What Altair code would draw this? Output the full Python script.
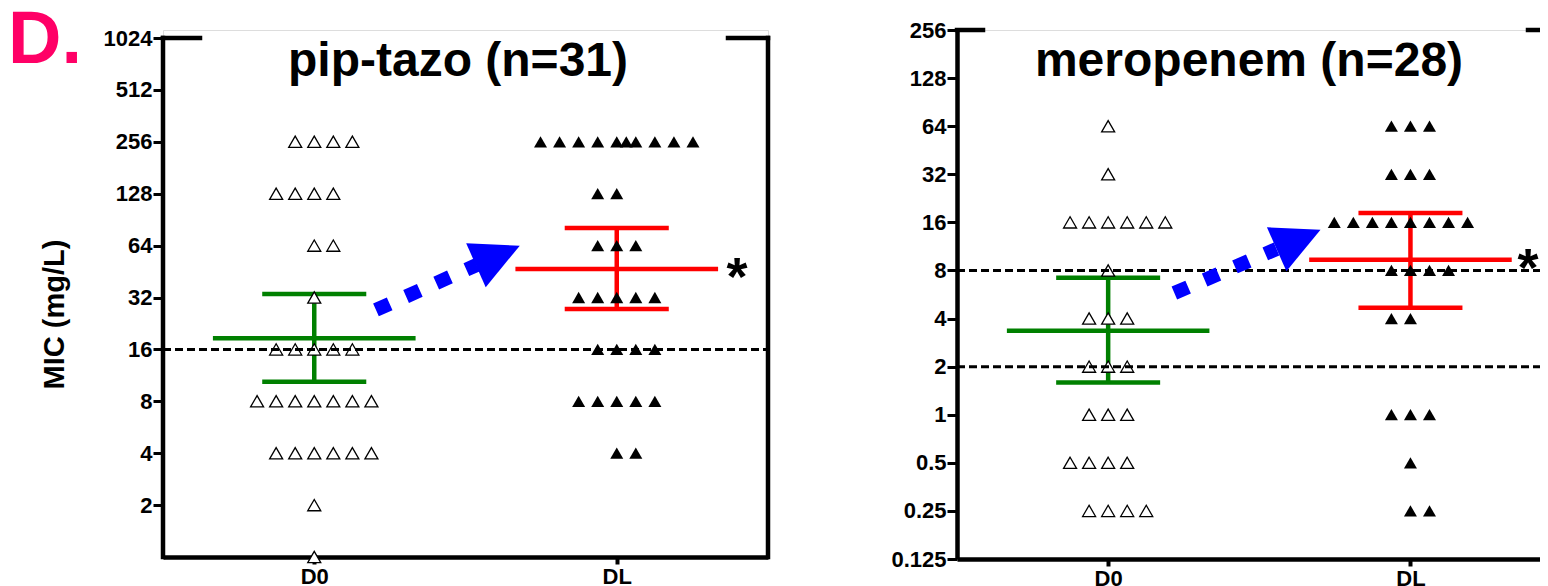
import altair as alt
import pandas as pd

FONT = "Liberation Sans"

# ---------------- data: pip-tazo ----------------
PT_TITLE = "pip-tazo (n=31)"
GROUPS = ["D0", "DL"]
PT_D0_MIC = [256, 128, 64, 32, 16, 8, 4, 2, 1]
PT_D0_COLS = [[-1, 0, 1, 2], [-2, -1, 0, 1], [0, 1], [0], [-2, -1, 0, 1, 2],
              [-3, -2, -1, 0, 1, 2, 3], [-2, -1, 0, 1, 2, 3], [0], [0]]
PT_DL_MIC = [256, 128, 64, 32, 16, 8, 4]
PT_DL_COLS = [[-4, -3, -2, -1, 0, 0.5, 1, 2, 3, 4], [-1, 0], [-1, 0, 1],
              [-2, -1, 0, 1, 2], [-1, 0, 1, 2], [-2, -1, 0, 1, 2], [0, 1]]
PT_GMEAN = [18.6, 46.8]
PT_CI_LOW = [10.4, 27.4]
PT_CI_HIGH = [33.5, 81.0]
PT_BREAKPOINTS = [16]
PT_YTICKS = [2, 4, 8, 16, 32, 64, 128, 256, 512, 1024]
PT_ARROW_START = [0.204, 27.1]
PT_ARROW_END = [0.537, 49.4]
PT_ARROW_HEAD = [0.607, 56.1]

# ---------------- data: meropenem ----------------
MP_TITLE = "meropenem (n=28)"
MP_D0_MIC = [64, 32, 16, 8, 4, 2, 1, 0.5, 0.25]
MP_D0_COLS = [[0], [0], [-2, -1, 0, 1, 2, 3], [0], [-1, 0, 1], [-1, 0, 1],
              [-1, 0, 1], [-2, -1, 0, 1], [-1, 0, 1, 2]]
MP_DL_MIC = [64, 32, 16, 8, 4, 1, 0.5, 0.25]
MP_DL_COLS = [[-1, 0, 1], [-1, 0, 1], [-4, -3, -2, -1, 0, 1, 2, 3], [-1, 0, 1, 2],
              [-1, 0], [-1, 0, 1], [0], [0, 1]]
MP_GMEAN = [3.36, 9.33]
MP_CI_LOW = [1.59, 4.67]
MP_CI_HIGH = [7.19, 18.3]
MP_BREAKPOINTS = [2, 8]
MP_YTICKS = [0.125, 0.25, 0.5, 1, 2, 4, 8, 16, 32, 64, 128, 256]
MP_ARROW_START = [0.219, 5.78]
MP_ARROW_END = [0.557, 10.9]
MP_ARROW_HEAD = [0.63, 12.5]

# ---------------- style ----------------
SLOT = 0.063
MEAN_HALF = 0.335
CAP_HALF = 0.172
GREEN = "#008000"
RED = "#FF0000"
BLUE = "#0000FF"
LINE_W = 4.5


def build_panel(title, d0_mic, d0_cols, dl_mic, dl_cols, gmean, lo, hi, bps, yticks,
                a_start, a_end, a_head, width, height, x_max, y_min, y_max,
                top_val, top_segs, left_panel, star_x):
    rows = []
    for g, mics, cols in ((0, d0_mic, d0_cols), (1, dl_mic, dl_cols)):
        for m, cs in zip(mics, cols):
            for c in cs:
                rows.append({"g": g, "col": c, "mic": m})
    pts = pd.DataFrame(rows)

    eb = pd.DataFrame({"g": [0, 1], "grp": GROUPS, "gm": gmean, "lo": lo, "hi": hi})
    bpdf = pd.DataFrame({"bp": bps})
    arrow = pd.DataFrame({"x1": [a_start[0]], "y1": [a_start[1]],
                          "x2": [a_end[0]], "y2": [a_end[1]],
                          "hx": [a_head[0]], "hy": [a_head[1]]})

    xs = alt.Scale(domain=[-0.5, x_max], nice=False, zero=False)
    ys = alt.Scale(type="log", base=2, domain=[y_min, y_max], nice=False)
    xax = alt.Axis(values=[0, 1], labelExpr="datum.value == 0 ? 'D0' : 'DL'",
                   grid=False, domain=True, domainColor="black", domainWidth=LINE_W,
                   tickColor="black", tickWidth=4, tickSize=7,
                   labelFont=FONT, labelFontSize=22, labelFontWeight="bold",
                   labelColor="black", labelPadding=2, labelFlush=False)
    yax_kwargs = dict(values=yticks, labelExpr="'' + datum.value", grid=False,
                      domain=not left_panel, domainColor="black", domainWidth=LINE_W,
                      tickColor="black", tickWidth=3, tickSize=10,
                      labelFont=FONT, labelFontSize=22, labelFontWeight="bold",
                      labelColor="black", labelPadding=1, labelOverlap=False)
    if left_panel:
        yax_kwargs.update(titleFont=FONT, titleFontSize=29, titleFontWeight="bold",
                          titleColor="black", titleX=-109, titleY=284,
                          titleAlign="center", titleBaseline="middle", titleAngle=270)
    yax = alt.Axis(**yax_kwargs)
    ytitle = "MIC (mg/L)" if left_panel else None

    def X(f):
        return alt.X(f, type="quantitative", scale=xs, axis=xax, title=None)

    def Y(f):
        return alt.Y(f, type="quantitative", scale=ys, axis=yax, title=ytitle)

    color = alt.Color("grp:N", scale=alt.Scale(domain=GROUPS, range=[GREEN, RED]), legend=None)

    ebase = alt.Chart(eb).transform_calculate(
        m1=f"datum.g - {MEAN_HALF}", m2=f"datum.g + {MEAN_HALF}",
        c1=f"datum.g - {CAP_HALF}", c2=f"datum.g + {CAP_HALF}")
    mean_l = ebase.mark_rule(strokeWidth=LINE_W).encode(x=X("m1"), x2="m2", y=Y("gm"), color=color)
    cap_hi = ebase.mark_rule(strokeWidth=LINE_W).encode(x=X("c1"), x2="c2", y=Y("hi"), color=color)
    cap_lo = ebase.mark_rule(strokeWidth=LINE_W).encode(x=X("c1"), x2="c2", y=Y("lo"), color=color)
    vert = ebase.mark_rule(strokeWidth=LINE_W).encode(x=X("g"), y=Y("lo"), y2="hi", color=color)

    pbase = alt.Chart(pts).transform_calculate(px=f"datum.g + datum.col * {SLOT}")
    open_pts = pbase.transform_filter("datum.g == 0").mark_point(
        shape="triangle-up", size=169, filled=True, fill="white", stroke="black",
        strokeWidth=1.3, opacity=1).encode(x=X("px"), y=Y("mic"))
    fill_pts = pbase.transform_filter("datum.g == 1").mark_point(
        shape="triangle-up", size=169, filled=True, color="black", opacity=1
    ).encode(x=X("px"), y=Y("mic"))

    bp_lines = alt.Chart(bpdf).mark_rule(color="black", strokeWidth=3, strokeDash=[8, 4]).encode(
        y=Y("bp"), x=alt.value(0), x2=alt.value(width))

    layers = [mean_l, cap_hi, cap_lo, vert, open_pts, fill_pts, bp_lines]

    # frame pieces
    tdf = pd.DataFrame({"v": [top_val]})
    for a, b in top_segs:
        layers.append(alt.Chart(tdf).mark_rule(color="black", strokeWidth=LINE_W, strokeCap="square").encode(
            y=Y("v"), x=alt.value(a), x2=alt.value(b)))
    if left_panel:
        fdf = pd.DataFrame({"lo": [y_min], "hi": [top_val]})
        for xv in (0, width):
            layers.append(alt.Chart(fdf).mark_rule(color="black", strokeWidth=LINE_W, strokeCap="square").encode(
                x=alt.value(xv), y=Y("lo"), y2="hi"))

    # arrow
    layers.append(alt.Chart(arrow).mark_rule(color=BLUE, strokeWidth=14, strokeDash=[15, 18],
                                             strokeCap="butt").encode(
        x=X("x1"), y=Y("y1"), x2="x2", y2="y2"))
    layers.append(alt.Chart(arrow).mark_point(shape="M0,-1L1,1L-1,1Z", size=2304, filled=True,
                                              color=BLUE, opacity=1, angle=66).encode(
        x=X("hx"), y=Y("hy")))

    one = pd.DataFrame({"a": [0]})
    layers.append(alt.Chart(one).mark_text(text=title, font=FONT, fontSize=48, fontWeight="bold",
                                           align="center", baseline="alphabetic", color="black").encode(
        x=alt.value(295 if left_panel else 292), y=alt.value(46)))
    sdf = pd.DataFrame({"gm": [gmean[1]]})
    layers.append(alt.Chart(sdf).mark_text(text="*", font=FONT, fontSize=54, fontWeight="bold",
                                           align="center", baseline="alphabetic", dy=26,
                                           color="black").encode(
        x=alt.value(star_x), y=Y("gm")))
    if left_panel:
        layers.append(alt.Chart(one).mark_text(text="D.", font=FONT, fontSize=74, fontWeight="bold",
                                               align="left", baseline="alphabetic",
                                               color="#FF0066").encode(
            x=alt.value(-155), y=alt.value(33)))

    return alt.layer(*layers).properties(width=width, height=height)


left = build_panel(PT_TITLE, PT_D0_MIC, PT_D0_COLS, PT_DL_MIC, PT_DL_COLS, PT_GMEAN, PT_CI_LOW,
                   PT_CI_HIGH, PT_BREAKPOINTS, PT_YTICKS, PT_ARROW_START, PT_ARROW_END,
                   PT_ARROW_HEAD, width=605, height=527, x_max=1.5, y_min=1, y_max=1139.5,
                   top_val=1024, top_segs=[(0, 37), (565, 605)], left_panel=True, star_x=574)
right = build_panel(MP_TITLE, MP_D0_MIC, MP_D0_COLS, MP_DL_MIC, MP_DL_COLS, MP_GMEAN, MP_CI_LOW,
                    MP_CI_HIGH, MP_BREAKPOINTS, MP_YTICKS, MP_ARROW_START, MP_ARROW_END,
                    MP_ARROW_HEAD, width=591, height=529, x_max=1.455, y_min=0.125, y_max=256,
                    top_val=256, top_segs=[(0, 26), (571, 591)], left_panel=False, star_x=571)

chart = alt.hconcat(left, right, spacing=189, bounds="flush").configure_view(
    stroke=None).configure(font=FONT).properties(
    autosize=alt.AutoSizeParams(type="none"),
    padding={"left": 155, "top": 22, "right": 1377, "bottom": 578})

chart.save("out.html", embed_options={"renderer": "svg", "actions": False})
